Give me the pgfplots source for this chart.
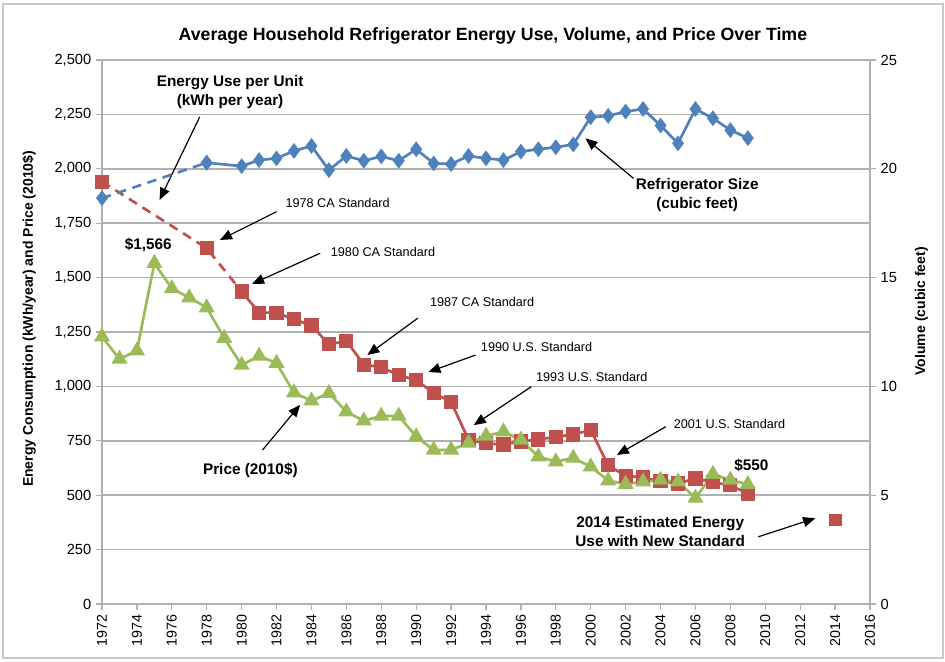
\documentclass[border=0pt]{standalone}
\usepackage{fontspec}
\setmainfont{Liberation Sans}
\usepackage{pgfplots}
\pgfplotsset{compat=1.18}
\usetikzlibrary{arrows.meta}
\definecolor{eblue}{HTML}{4F81BD}
\definecolor{ered}{HTML}{C0504D}
\definecolor{egreen}{HTML}{9BBB59}
\definecolor{gridc}{HTML}{B0B0B0}
\definecolor{framec}{HTML}{C8C8C8}
\tikzset{ann/.style={font=\fontsize{11.5}{14.5}\selectfont\bfseries, align=center, inner sep=0pt},
  sml/.style={font=\fontsize{9.5}{11}\selectfont, inner sep=0pt},
  arr/.style={black, line width=0.9pt, -{Triangle[length=9pt,width=7.5pt]}}}
\begin{document}
\begin{tikzpicture}
\begin{axis}[
  scale only axis, width=576pt, height=408pt,
  xmin=1972, xmax=2016, ymin=0, ymax=2500,
  clip=false,
  xtick={1972,1974,...,2016},
  ytick={0,250,...,2500},
  xtick pos=bottom, ytick pos=left,
  tick align=outside, major tick length=4.5pt,
  /pgf/number format/assume math mode=true,
  x tick label style={rotate=90, anchor=east, font=\fontsize{10.7}{12}\selectfont, /pgf/number format/1000 sep={}},
  y tick label style={font=\fontsize{11}{12}\selectfont, /pgf/number format/1000 sep={,}},
  ymajorgrids, grid style={gridc, line width=1.1pt},
  axis line style={gridc, line width=1.1pt},
  tick style={gridc, line width=1pt},
  ylabel={\bfseries Energy Consumption (kWh/year) and Price (2010\$)},
  ylabel style={at={(axis description cs:-0.095,0.524)}, anchor=center, font=\fontsize{10.5}{12}\selectfont},
]
% Energy use (red)
\addplot[ered, line width=2pt, dashed, dash pattern=on 7pt off 5pt, mark=square*, mark size=4.3pt, mark options={solid}] coordinates {
 (1972,1941) (1978,1635) (1980,1436)};
\addplot[ered, line width=2pt, mark=square*, mark size=4.3pt] coordinates {
 (1980,1436) (1981,1339) (1982,1339) (1983,1308) (1984,1280) (1985,1193) (1986,1209)
 (1987,1100) (1988,1088) (1989,1052) (1990,1029) (1991,970) (1992,929) (1993,754)
 (1994,738) (1995,733) (1996,747) (1997,756) (1998,768) (1999,779) (2000,800)
 (2001,637) (2002,589) (2003,582) (2004,564) (2005,554) (2006,577) (2007,560)
 (2008,545) (2009,508)};
\addplot[ered, only marks, mark=square*, mark size=4.3pt] coordinates {(2014,386)};
% Price (green)
\addplot[egreen, line width=2pt, mark=triangle*, mark size=5pt] coordinates {
 (1972,1228) (1973,1126) (1974,1164) (1975,1566) (1976,1450) (1977,1408) (1978,1362)
 (1979,1222) (1980,1098) (1981,1140) (1982,1107) (1983,971) (1984,934) (1985,969)
 (1986,884) (1987,842) (1988,864) (1989,864) (1990,769) (1991,708) (1992,708)
 (1993,740) (1994,772) (1995,792) (1996,754) (1997,677) (1998,654) (1999,671)
 (2000,631) (2001,567) (2002,551) (2003,562) (2004,570) (2005,562) (2006,487)
 (2007,597) (2008,570) (2009,550)};
% title
\node[font=\fontsize{13.3}{15}\selectfont\bfseries] at (rel axis cs:0.509,1.044) {Average Household Refrigerator Energy Use, Volume, and Price Over Time};
% annotations
\node[ann] at (axis cs:1979.34,2353) {Energy Use per Unit\\(kWh per year)};
\draw[arr] (axis cs:1977.6,2239) -- (axis cs:1975.3,1857);
\node[sml] at (axis cs:1985.5,1841) {1978 CA Standard};
\draw[arr] (axis cs:1982.0,1803) -- (axis cs:1978.76,1673);
\node[sml] at (axis cs:1988.1,1619) {1980 CA Standard};
\draw[arr] (axis cs:1984.5,1612) -- (axis cs:1980.6,1471);
\node[sml] at (axis cs:1993.78,1388) {1987 CA Standard};
\draw[arr] (axis cs:1990.1,1314) -- (axis cs:1987.2,1144);
\node[sml] at (axis cs:1996.9,1180) {1990 U.S. Standard};
\draw[arr] (axis cs:1993.4,1144) -- (axis cs:1990.7,1066);
\node[sml] at (axis cs:2000.06,1045) {1993 U.S. Standard};
\draw[arr] (axis cs:1996.6,999) -- (axis cs:1993.3,822);
\node[sml] at (axis cs:2007.95,827) {2001 U.S. Standard};
\draw[arr] (axis cs:2004.3,815) -- (axis cs:2001.5,685);
\node[ann] at (axis cs:2009.2,639) {\$550};
\node[ann] at (axis cs:1974.65,1650) {\$1,566};
\node[ann] at (axis cs:1980.5,613) {Price (2010\$)};
\draw[arr] (axis cs:1981.2,708) -- (axis cs:1983.35,915);
\node[ann] at (axis cs:2006.1,1880) {Refrigerator Size\\(cubic feet)};
\draw[arr] (axis cs:2002.45,1956) -- (axis cs:1999.7,2140);
\node[ann] at (axis cs:2003.98,332) {2014 Estimated Energy\\Use with New Standard};
\draw[arr] (axis cs:2009.6,309) -- (axis cs:2012.86,394);
\end{axis}
\begin{axis}[
  scale only axis, width=576pt, height=408pt,
  xmin=1972, xmax=2016, ymin=0, ymax=25,
  clip=false,
  axis x line=none, axis y line*=right,
  ytick={0,5,...,25},
  tick align=outside, major tick length=4.5pt,
  /pgf/number format/assume math mode=true,
  y tick label style={font=\fontsize{11}{12}\selectfont},
  axis line style={gridc, line width=1.1pt},
  tick style={gridc, line width=1pt},
  ylabel={\bfseries Volume (cubic feet)},
  ylabel style={at={(axis description cs:1.067,0.538)}, anchor=center, rotate=0, font=\fontsize{10.5}{12}\selectfont},
]
\addplot[eblue, line width=2pt, dashed, dash pattern=on 7pt off 5pt, mark=diamond*, mark size=4.3pt, mark options={solid}] coordinates {
 (1972,18.65) (1978,20.28)};
\addplot[eblue, line width=2pt, mark=diamond*, mark size=4.3pt] coordinates {
 (1978,20.28) (1980,20.12) (1981,20.40) (1982,20.48) (1983,20.82) (1984,21.05) (1985,19.94)
 (1986,20.59) (1987,20.37) (1988,20.57) (1989,20.37) (1990,20.90) (1991,20.25) (1992,20.22)
 (1993,20.59) (1994,20.48) (1995,20.40) (1996,20.79) (1997,20.90) (1998,20.99) (1999,21.12)
 (2000,22.37) (2001,22.43) (2002,22.63) (2003,22.75) (2004,21.99) (2005,21.17) (2006,22.75)
 (2007,22.32) (2008,21.78) (2009,21.41)};
\end{axis}
\pgfresetboundingbox
\path[use as bounding box] (-76.5pt,-42.75pt) rectangle (632.25pt,453pt);
\draw[framec, line width=1pt] (-74.25pt,-40.5pt) rectangle (630.75pt,450pt);
\end{tikzpicture}
\end{document}
